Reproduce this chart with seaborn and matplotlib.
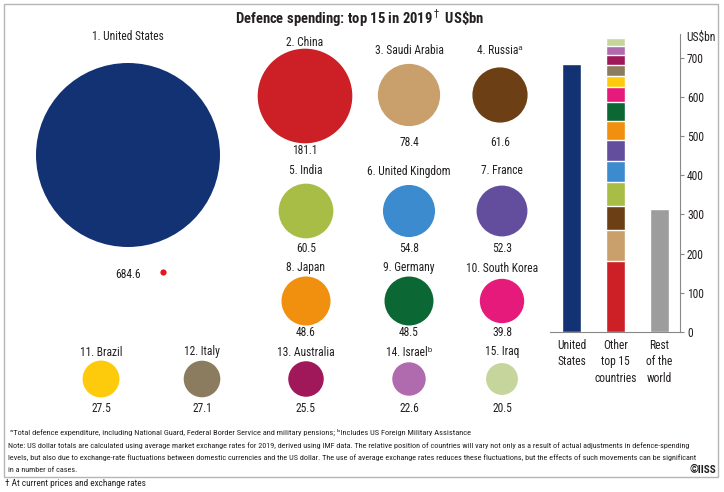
import numpy as np
import pandas as pd
import matplotlib
matplotlib.use("Agg")
import matplotlib.pyplot as plt
import seaborn as sns
from matplotlib import font_manager
from matplotlib.patches import Rectangle

# ---------------- data ----------------
countries = ["United States", "China", "Saudi Arabia", "Russia", "India",
             "United Kingdom", "France", "Japan", "Germany", "South Korea",
             "Brazil", "Italy", "Australia", "Israel", "Iraq"]
spending = [684.6, 181.1, 78.4, 61.6, 60.5, 54.8, 52.3, 48.6, 48.5, 39.8,
            27.5, 27.1, 25.5, 22.6, 20.5]
superscripts = ["", "", "", "ᵃ", "", "", "", "", "", "", "", "", "", "ᵇ", ""]
rest_of_world = 314.0
bar_groups = ["United States", "Other top 15", "Rest of the world"]
bar_labels = ["United\nStates", "Other\ntop 15\ncountries", "Rest\nof the\nworld"]
y_ticks = [0, 100, 200, 300, 400, 500, 600, 700]

colours = ["#133273", "#cc1f26", "#c9a06b", "#6d3f14", "#a8bd45", "#3d8bcf",
           "#634d9d", "#f0900e", "#0b6734", "#e61a7b", "#fdcb0c", "#8c7c5f",
           "#a0185a", "#b06aae", "#c5d59b"]
rest_colour = "#9d9d9d"

# ---------------- layout (pixels) ----------------
W, H = 724, 492
bubble_x = [128, 305, 409, 500, 306, 409, 502, 306, 409, 502, 101, 202, 306, 409, 502]
bubble_y = [155, 96, 95, 95, 211, 211, 211, 301, 301, 301, 379, 379, 379, 379, 379]
label_y = [37, 42, 51, 51, 171, 171, 171, 268, 268, 268, 352, 352, 352, 352, 352]
value_y = [275, 150, 143, 143, 249, 249, 249, 333, 333, 333, 408, 408, 408, 408, 408]
us_diameter_px = 184
dot_xy = (163, 272)

sns.set_theme(style="white")
installed = {f.name for f in font_manager.fontManager.ttflist}
narrow = [f for f in ["Liberation Sans Narrow", "DejaVu Sans Condensed", "Roboto Condensed",
                      "Roboto", "Liberation Sans"] if f in installed]
main_font = narrow[0] if narrow else "DejaVu Sans"
plt.rcParams['font.family'] = [main_font, 'DejaVu Sans']
txt = "#231f20"
fs = 8.3

fig = plt.figure(figsize=(W / 100, H / 100), dpi=100)

# bubbles: marker area proportional to spending
ax = fig.add_axes([0, 0, 1, 1])
ax.set_xlim(0, W)
ax.set_ylim(H, 0)
ax.axis("off")

df = pd.DataFrame({"country": countries, "spend": spending, "x": bubble_x, "y": bubble_y})
k = (us_diameter_px * 0.72) ** 2 / max(spending)
sns.scatterplot(data=df, x="x", y="y", size="spend", hue="country",
                sizes=(k * min(spending), k * max(spending)),
                palette=dict(zip(countries, colours)), linewidth=0,
                legend=False, ax=ax)
ax.scatter([dot_xy[0]], [dot_xy[1]], s=20, color="#e8141c", linewidth=0)

for i, c in enumerate(countries):
    ax.text(bubble_x[i], label_y[i], f"{i + 1}. {c}{superscripts[i]}",
            ha="center", va="center", fontsize=fs, color=txt)
    ax.text(bubble_x[i], value_y[i], f"{spending[i]:.1f}",
            ha="center", va="center", fontsize=fs, color=txt)

# stacked bar panel
bx = fig.add_axes([550 / W, (H - 332) / H, 130 / W, 298 / H])
cum = np.cumsum(spending[1:])
rows = [(bar_groups[0], spending[0], countries[0])]
rows += [(bar_groups[1], cum[i], countries[i + 1]) for i in range(len(cum))]
rows += [(bar_groups[2], rest_of_world, "Rest of the world")]
bars = pd.DataFrame(rows, columns=["group", "value", "layer"])
pal = dict(zip(countries, colours))
pal["Rest of the world"] = rest_colour
hue_order = [countries[0], "Rest of the world"] + countries[1:][::-1]
sns.barplot(data=bars, x="group", y="value", hue="layer", order=bar_groups,
            hue_order=hue_order, palette=pal, dodge=False, width=0.43,
            saturation=1, errorbar=None, legend=False, ax=bx)
bx.set_xlim(-0.5, 2.47)
bx.set_ylim(0, 760)
bx.set_xlabel("")
bx.set_ylabel("")
bx.set_xticks(range(3))
bx.set_xticklabels(bar_labels, fontsize=fs, color=txt, linespacing=1.35)
bx.yaxis.tick_right()
bx.set_yticks(y_ticks)
bx.set_yticklabels([str(t) for t in y_ticks], fontsize=fs, color=txt)
bx.tick_params(axis="y", direction="out", length=3, width=0.8, color="#888888", pad=2)
bx.tick_params(axis="x", length=0, pad=5)
for s in ["left", "top"]:
    bx.spines[s].set_visible(False)
for s in ["right", "bottom"]:
    bx.spines[s].set_color("#888888")
    bx.spines[s].set_linewidth(0.8)
bx.patch.set_alpha(0)

# texts
fig.text(360 / W, 1 - 18 / H, r"Defence spending: top 15 in 2019$^\dagger$ US\$bn",
         ha="center", va="center", fontsize=10.5, fontweight="bold", color=txt)
fig.text(701 / W, 1 - 37 / H, "US$bn", ha="center", va="center", fontsize=fs, color=txt)

fig.text(10 / W, 1 - 432 / H,
         "ᵃTotal defence expenditure, including National Guard, Federal Border Service "
         "and military pensions; ᵇIncludes US Foreign Military Assistance",
         ha="left", va="center", fontsize=6.0, color=txt)
note_lines = [
    "Note: US dollar totals are calculated using average market exchange rates for 2019, derived using IMF data. "
    "The relative position of countries will vary not only as a result of actual adjustments in defence-spending",
    "levels, but also due to exchange-rate fluctuations between domestic currencies and the US dollar. "
    "The use of average exchange rates reduces these fluctuations, but the effects of such movements can be significant",
    "in a number of cases.",
]
for yy, line in zip([446, 458, 470], note_lines):
    fig.text(8 / W, 1 - yy / H, line, ha="left", va="center", fontsize=5.9, color=txt)
fig.text(716 / W, 1 - 470 / H, "©IISS", ha="right", va="center",
         fontsize=8, fontweight="bold", color=txt)
fig.text(5 / W, 1 - 484 / H, "† At current prices and exchange rates",
         ha="left", va="center", fontsize=6.7, color=txt)

fig.add_artist(Rectangle((4 / W, 1 - 477 / H), 714 / W, 473 / H,
                         transform=fig.transFigure, fill=False,
                         edgecolor="#b5b5b5", linewidth=1))

fig.savefig("out.png", dpi=100)
